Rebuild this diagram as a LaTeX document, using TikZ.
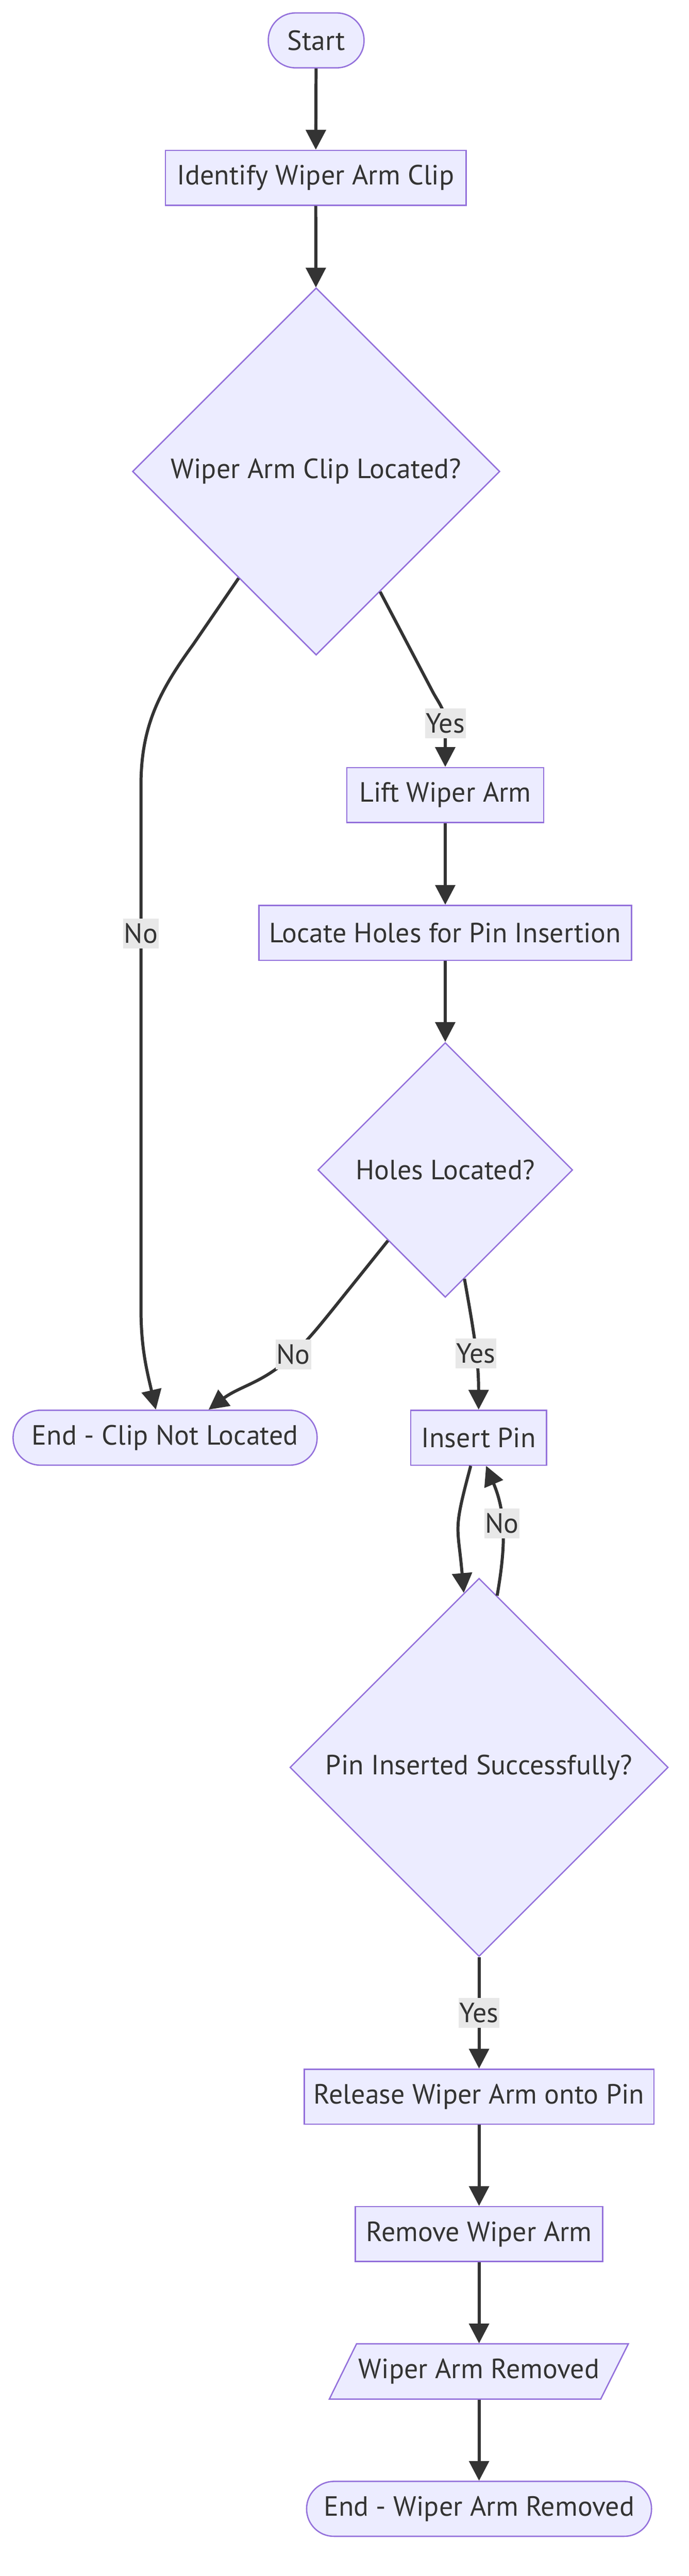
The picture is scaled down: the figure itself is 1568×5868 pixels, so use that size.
\documentclass[tikz,border=0pt]{standalone}
\usepackage{fontspec}
\setmainfont{PT Sans}
\usetikzlibrary{shapes.geometric,arrows.meta}
\definecolor{nodefill}{HTML}{ECECFF}
\definecolor{nodeline}{HTML}{9370DB}
\definecolor{edgeline}{HTML}{333333}
\definecolor{lblfill}{HTML}{E8E8E8}
\begin{document}
\begin{tikzpicture}[x=0.01cm,y=-0.01cm,font=\fontsize{18}{21}\selectfont,text=edgeline,
	box/.style={rectangle,draw=nodeline,fill=nodefill,line width=0.03cm,minimum height=1.25cm,inner sep=0pt},
	term/.style={box,rounded corners=0.62cm},
	choice/.style={diamond,aspect=1,draw=nodeline,fill=nodefill,line width=0.03cm,inner sep=0pt},
	flow/.style={draw=edgeline,line width=0.07cm,-{Triangle[length=0.45cm,width=0.45cm]}},
	lbl/.style={fill=lblfill,inner xsep=0.02cm,inner ysep=0pt,minimum height=0.68cm}]
	\useasboundingbox (0,0) rectangle (1568,5868);

	\node[term, minimum width=2.18cm] (start) at (720,92) {Start};
	\node[box, minimum width=6.84cm] (ident) at (719,405) {Identify Wiper Arm Clip};
	\node[choice, minimum size=8.36cm] (clip) at (720,1074) {Wiper Arm Clip Located?};
	\node[box, minimum width=4.48cm] (lift) at (1014,1811) {Lift Wiper Arm};
	\node[box, minimum width=8.48cm] (holes) at (1014,2125) {Locate Holes for Pin Insertion};
	\node[choice, minimum size=5.8cm] (found) at (1014,2665) {Holes Located?};
	\node[term, minimum width=6.92cm] (endclip) at (376,3275) {End - Clip Not Located};
	\node[box, minimum width=3.09cm] (insert) at (1090,3275) {Insert Pin};
	\node[choice, minimum size=8.61cm] (pinok) at (1091,4026) {Pin Inserted Successfully?};
	\node[box, minimum width=7.96cm] (release) at (1091,4776) {Release Wiper Arm onto Pin};
	\node[box, minimum width=5.63cm] (remove) at (1091,5089) {Remove Wiper Arm};
	\draw[draw=nodeline, fill=nodefill, line width=0.03cm] (750,5465) -- (812,5339) -- (1431,5339) -- (1368,5465) -- cycle;
	\node[box, draw=none, fill=none, minimum width=6.19cm] (removed) at (1091,5402) {Wiper Arm Removed};
	\node[term, minimum width=7.85cm] (endarm) at (1091,5715) {End - Wiper Arm Removed};

	\draw[flow] (start) -- (ident);
	\draw[flow] (ident) -- (clip);
	\draw[flow] (clip.-62) -- (985,1575) to[out=-62,in=90] (1014,1648) node[lbl] {Yes} -- (lift.north);
	\draw[flow] (clip.234) -- (440,1468) to[out=234,in=90] (321,1790) -- (321,2126) node[lbl] {No}
		-- (321,2980) to[out=-90,in=103] ([xshift=-0.21cm]endclip.north);
	\draw[flow] (lift) -- (holes);
	\draw[flow] (holes) -- (found);
	\draw[flow] (found.231) -- (760,2980) to[out=231,in=45] (668,3085) node[lbl] {No}
		to[out=225,in=37] ([xshift=0.99cm]endclip.north);
	\draw[flow] (found.-80) to[out=-80,in=90] node[lbl,pos=0.58] {Yes} (insert.north);
	\draw[flow] ([xshift=-0.18cm]insert.south) to[out=-105,in=95,looseness=1.4] (pinok.95);
	\draw[flow] (pinok.84) to[out=80,in=-67] node[lbl,pos=0.55] {No} ([xshift=0.17cm]insert.south);
	\draw[flow] (pinok) -- node[lbl] {Yes} (release);
	\draw[flow] (release) -- (remove);
	\draw[flow] (remove) -- (removed);
	\draw[flow] (removed) -- (endarm);
\end{tikzpicture}
\end{document}
